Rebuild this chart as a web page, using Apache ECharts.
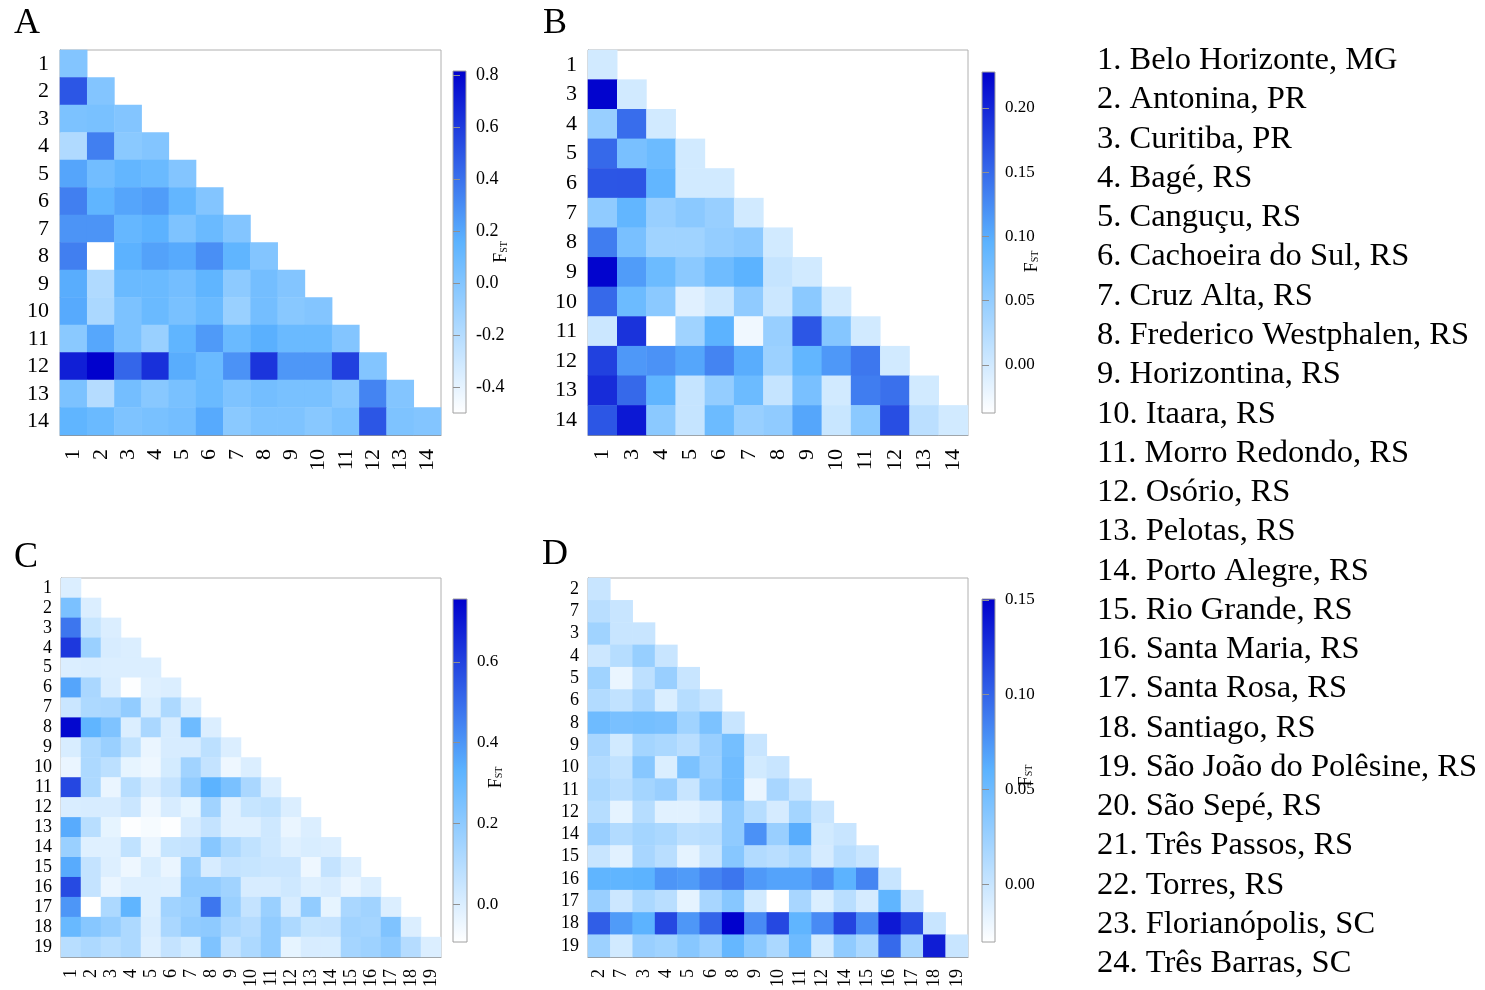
<!DOCTYPE html>
<html>
<head>
<meta charset="utf-8">
<script src="https://cdn.jsdelivr.net/npm/echarts@6/dist/echarts.min.js"></script>
<style>
  html, body { margin: 0; padding: 0; background: #fff; }
  #chart { width: 1485px; height: 990px; }
</style>
</head>
<body>
<div id="chart"></div>
<script>
// pairwise FST, lower triangle (row i holds columns 0..i)
const labelsA = ['1', '2', '3', '4', '5', '6', '7', '8', '9', '10', '11', '12', '13', '14'];
const fstA = [
  [0],
  [0.50, 0],
  [0.03, 0.04, 0],
  [-0.18, 0.35, -0.03, 0],
  [0.21, 0.07, 0.13, 0.10, 0],
  [0.35, 0.14, 0.21, 0.24, 0.13, 0],
  [0.27, 0.27, 0.12, 0.16, 0.02, 0.10, 0],
  [0.35, -0.50, 0.16, 0.22, 0.19, 0.29, 0.14, 0],
  [0.18, -0.18, 0.10, 0.10, 0.06, 0.14, -0.04, 0.06, 0],
  [0.19, -0.16, 0.03, 0.10, 0.04, 0.10, -0.09, 0.06, -0.02, 0],
  [-0.03, 0.20, 0.03, -0.09, 0.14, 0.25, 0.10, 0.17, 0.10, 0.10, 0],
  [0.70, 0.81, 0.44, 0.64, 0.18, 0.10, 0.28, 0.62, 0.26, 0.26, 0.58, 0],
  [0.03, -0.20, 0.06, -0.02, 0.04, 0.10, 0.02, 0.06, 0.04, 0.04, -0.02, 0.33, 0],
  [0.14, 0.10, 0.02, 0.04, 0.06, 0.19, -0.03, 0.02, 0.02, -0.02, 0.03, 0.50, 0.02, 0]
];
const ticksA = [-0.4, -0.2, 0, 0.2, 0.4, 0.6, 0.8];

const labelsB = ['1', '3', '4', '5', '6', '7', '8', '9', '10', '11', '12', '13', '14'];
const fstB = [
  [0],
  [0.225, 0],
  [0.046, 0.147, 0],
  [0.15, 0.072, 0.082, 0],
  [0.164, 0.165, 0.09, 0, 0],
  [0.053, 0.09, 0.046, 0.057, 0.046, 0],
  [0.135, 0.072, 0.04, 0.04, 0.05, 0.056, 0],
  [0.225, 0.112, 0.082, 0.057, 0.08, 0.095, 0.01, 0],
  [0.15, 0.082, 0.057, -0.012, 0.005, 0.053, 0.005, 0.057, 0],
  [0.005, 0.19, -0.04, 0.04, 0.095, -0.025, 0.046, 0.164, 0.062, 0],
  [0.18, 0.115, 0.12, 0.105, 0.13, 0.10, 0.043, 0.09, 0.115, 0.14, 0],
  [0.195, 0.15, 0.092, 0.01, 0.05, 0.082, 0.01, 0.072, 0.0, 0.135, 0.145, 0],
  [0.164, 0.21, 0.057, 0.01, 0.082, 0.046, 0.053, 0.105, 0.007, 0.057, 0.17, 0.018, 0]
];
const ticksB = [0, 0.05, 0.10, 0.15, 0.20];

const labelsC = ['1', '2', '3', '4', '5', '6', '7', '8', '9', '10', '11', '12', '13', '14', '15', '16', '17', '18', '19'];
const fstC = [
  [0],
  [0.25, 0],
  [0.475, 0.054, 0],
  [0.624, 0.17, 0.011, 0],
  [0, 0.005, 0, 0, 0],
  [0.364, 0.128, 0.005, -0.09, -0.01, 0],
  [0.045, 0.12, 0.128, 0.19, 0.008, 0.12, 0],
  [0.74, 0.32, 0.24, 0, 0.128, 0.011, 0.285, 0],
  [0.008, 0.12, 0.17, 0.07, -0.04, 0.011, 0.011, 0.08, 0],
  [-0.04, 0.12, 0.08, -0.03, -0.05, 0.02, 0.15, 0.06, -0.05, 0],
  [0.587, 0.12, -0.04, 0.09, 0.011, 0.06, 0.19, 0.33, 0.254, 0.128, 0],
  [0.005, 0.011, 0.011, 0.045, -0.05, 0.011, -0.03, 0.15, -0.01, 0.054, 0.07, 0],
  [0.35, 0.09, -0.03, -0.09, -0.07, -0.09, 0.011, 0.06, -0.01, -0.01, 0.035, -0.04, 0],
  [0.17, -0.01, -0.01, 0.07, -0.04, 0.054, 0.06, 0.22, 0.12, 0.07, 0.035, -0.01, 0.008, 0],
  [0.35, 0.06, -0.005, -0.05, 0.008, -0.04, 0.17, 0.011, 0.06, 0.054, 0.045, 0.045, -0.05, 0.06, 0],
  [0.58, 0.06, -0.04, -0.005, -0.005, -0.01, 0.19, 0.19, 0.15, 0.011, 0.011, 0.035, -0.005, 0.011, -0.04, 0],
  [0.40, -0.10, 0.12, 0.32, -0.005, 0.15, 0.17, 0.475, 0.17, 0.06, 0.17, 0.011, 0.19, -0.03, 0.128, 0.15, 0],
  [0.30, 0.22, 0.18, 0.12, 0.005, 0.128, 0.19, 0.20, 0.128, 0.10, 0.19, 0.12, 0.054, 0.06, 0.15, 0.14, 0.24, 0],
  [0.09, 0.12, 0.09, 0.12, -0.005, 0.06, 0.02, 0.24, 0.06, 0.12, 0.19, -0.03, 0.011, 0.008, 0.14, 0.16, 0.20, 0.10, 0]
];
const ticksC = [0, 0.2, 0.4, 0.6];

const labelsD = ['2', '7', '3', '4', '5', '6', '8', '9', '10', '11', '12', '14', '15', '16', '17', '18', '19'];
const fstD = [
  [0],
  [0.0085, 0],
  [0.022, 0.0, 0],
  [-0.002, 0.01, 0.027, 0],
  [0.022, -0.019, 0.006, 0.026, 0],
  [0.012, 0.004, 0.018, -0.01, 0.01, 0],
  [0.05, 0.044, 0.046, 0.044, 0.022, 0.042, 0],
  [0.018, -0.005, 0.02, 0.016, 0.0085, 0.026, 0.046, 0],
  [0.012, 0.004, 0.036, -0.01, 0.042, 0.024, 0.049, -0.005, 0],
  [0.016, 0.0085, 0.02, 0.026, 0.0, 0.031, 0.049, -0.019, 0.018, 0],
  [0.01, -0.016, 0.01, -0.014, -0.014, -0.007, 0.031, 0.01, -0.007, 0.02, 0],
  [0.026, 0.012, 0.02, 0.016, 0.006, 0.0085, 0.031, 0.077, 0.026, 0.063, -0.005, 0],
  [0.0, -0.014, 0.018, 0.0085, -0.016, 0.0, 0.036, 0.012, 0.0085, 0.016, -0.007, 0.0085, 0],
  [0.058, 0.058, 0.06, 0.075, 0.072, 0.083, 0.091, 0.073, 0.068, 0.068, 0.078, 0.06, 0.083, 0],
  [0.026, -0.002, 0.016, 0.0085, -0.016, 0.018, 0.036, -0.005, -0.031, 0.018, -0.01, 0.0085, -0.007, 0.058, 0],
  [0.103, 0.072, 0.06, 0.114, 0.074, 0.10, 0.15, 0.08, 0.114, 0.058, 0.08, 0.116, 0.08, 0.138, 0.114, 0],
  [0.024, -0.005, 0.026, 0.022, 0.036, 0.024, 0.055, 0.034, 0.016, 0.05, -0.005, 0.031, 0.016, 0.097, 0.018, 0.136, 0]
];
const ticksD = [0, 0.05, 0.10, 0.15];

const populations = [
  '1. Belo Horizonte, MG', '2. Antonina, PR', '3. Curitiba, PR', '4. Bagé, RS',
  '5. Canguçu, RS', '6. Cachoeira do Sul, RS', '7. Cruz Alta, RS', '8. Frederico Westphalen, RS',
  '9. Horizontina, RS', '10. Itaara, RS', '11. Morro Redondo, RS', '12. Osório, RS',
  '13. Pelotas, RS', '14. Porto Alegre, RS', '15. Rio Grande, RS', '16. Santa Maria, RS',
  '17. Santa Rosa, RS', '18. Santiago, RS', '19. São João do Polêsine, RS', '20. São Sepé, RS',
  '21. Três Passos, RS', '22. Torres, RS', '23. Florianópolis, SC', '24. Três Barras, SC'
];

const serif = '"Liberation Serif", "DejaVu Serif", serif';
const stops = ['#ffffff', '#5cb3ff', '#0000cd'];

const myChart = echarts.init(document.getElementById('chart'));

const option = {
  backgroundColor: '#fff',
  animation: false,
  title: [],
  grid: [],
  xAxis: [],
  yAxis: [],
  visualMap: [],
  series: []
};

function addPanel(p) {
  const gi = option.grid.length;
  const data = [];
  p.rows.forEach((row, y) => row.forEach((v, x) => data.push([x, y, v])));

  // heatmap
  option.grid.push({ left: p.box[0], top: p.box[1], width: p.box[2], height: p.box[3],
    show: true, borderColor: '#b0b0b0', borderWidth: 1, backgroundColor: '#fff' });
  const catAxis = {
    type: 'category', data: p.labels, gridIndex: gi,
    axisLine: { lineStyle: { color: '#909090' } },
    axisTick: { alignWithLabel: true, length: 7, lineStyle: { color: '#909090' } },
    axisLabel: { interval: 0, color: '#000', fontFamily: serif, fontSize: p.font, margin: p.margin },
    splitLine: { show: false }
  };
  option.xAxis.push(Object.assign({}, catAxis, {
    axisLabel: Object.assign({}, catAxis.axisLabel, { rotate: 90, margin: p.margin + 3 })
  }));
  option.yAxis.push(Object.assign({}, catAxis, { inverse: true }));
  option.visualMap.push({ show: false, seriesIndex: option.series.length,
    min: p.range[0], max: p.range[1], inRange: { color: stops } });
  option.series.push({ type: 'heatmap', xAxisIndex: gi, yAxisIndex: gi, data: data,
    emphasis: { disabled: true }, itemStyle: { borderWidth: 0 } });

  // colour bar
  const gradient = new echarts.graphic.LinearGradient(0, 1, 0, 0, [
    { offset: 0, color: stops[0] }, { offset: 0.5, color: stops[1] }, { offset: 1, color: stops[2] }
  ]);
  option.grid.push({ left: p.bar[0], top: p.bar[1], width: p.bar[2], height: p.bar[3],
    show: true, borderColor: '#a0a0a0', borderWidth: 1, backgroundColor: gradient });
  option.xAxis.push({ type: 'value', gridIndex: gi + 1, show: false });
  option.yAxis.push({
    type: 'value', gridIndex: gi + 1, position: 'right', min: p.range[0], max: p.range[1],
    axisLine: { show: false },
    axisTick: { show: true, length: 7, customValues: p.ticks, lineStyle: { color: '#909090' } },
    axisLabel: { customValues: p.ticks, color: '#000', fontFamily: serif, fontSize: p.barFont, margin: 10,
      formatter: v => v.toFixed(p.digits) },
    splitLine: { show: false },
    name: '{f|F}{s|ST}', nameLocation: 'middle', nameGap: p.nameGap, nameRotate: 90,
    nameMoveOverlap: false,
    nameTextStyle: { padding: [0, p.nameShift, 0, 0], rich: {
      f: { fontFamily: serif, fontSize: 18, color: '#000' },
      s: { fontFamily: serif, fontSize: 10, color: '#000', padding: [7, 0, 0, 0] }
    } }
  });

  option.title.push({ text: p.letter, left: p.letterPos[0], top: p.letterPos[1], padding: 0,
    textStyle: { fontFamily: serif, fontSize: 36, fontWeight: 'normal', color: '#000' } });
}

addPanel({ letter: 'A', letterPos: [14, 6], labels: labelsA, rows: fstA, ticks: ticksA, digits: 1,
  range: [-0.5, 0.815], box: [60, 50, 381, 385], bar: [453, 71, 13, 342], font: 22, margin: 11,
  barFont: 18, nameGap: 26, nameShift: 20 });
addPanel({ letter: 'B', letterPos: [543, 6], labels: labelsB, rows: fstB, ticks: ticksB, digits: 2,
  range: [-0.0375, 0.228], box: [588, 50, 380, 385], bar: [982, 72, 13, 341], font: 22, margin: 11,
  barFont: 17, nameGap: 28, nameShift: 38 });
addPanel({ letter: 'C', letterPos: [14, 540], labels: labelsC, rows: fstC, ticks: ticksC, digits: 1,
  range: [-0.094, 0.756], box: [61, 578, 380, 385], bar: [453, 599, 14, 343], font: 18, margin: 9,
  barFont: 17, nameGap: 20, nameShift: 14 });
addPanel({ letter: 'D', letterPos: [542, 537], labels: labelsD, rows: fstD, ticks: ticksD, digits: 2,
  range: [-0.0306, 0.1505], box: [588, 578, 380, 385], bar: [982, 599, 13, 343], font: 18, margin: 9,
  barFont: 17, nameGap: 22, nameShift: 10 });

option.title.push({
  text: populations.join('\n'), left: 1097, top: 41, padding: 0,
  textStyle: { fontFamily: serif, fontSize: 32.5, fontWeight: 'normal', color: '#000', lineHeight: 39.26 }
});

myChart.setOption(option);
</script>
</body>
</html>
